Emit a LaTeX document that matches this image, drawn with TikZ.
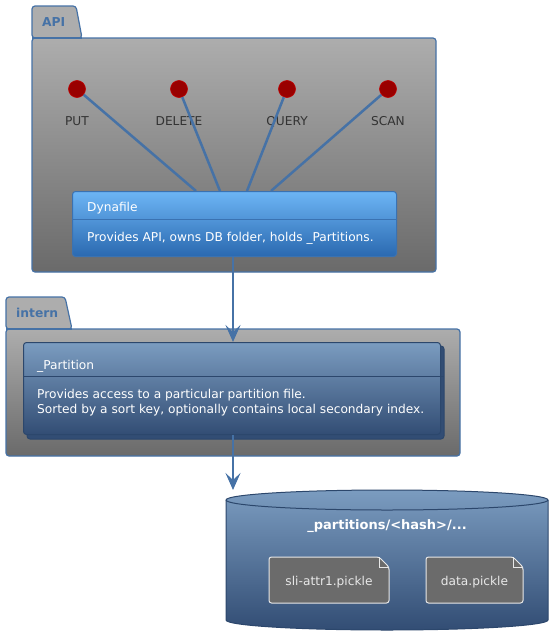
\documentclass[tikz,border=0pt]{standalone}
\usepackage{fontspec}
\setmainfont{DejaVu Sans}
\usetikzlibrary{arrows.meta,calc}
\definecolor{lnk}{HTML}{4672A6}
\definecolor{pkgtop}{HTML}{ADADAD}
\definecolor{pkgbot}{HTML}{6A6A6A}
\definecolor{dyntop}{HTML}{6DB5F5}
\definecolor{dynbot}{HTML}{2A69B0}
\definecolor{dynline}{HTML}{3A72B2}
\definecolor{partop}{HTML}{7B9CC0}
\definecolor{parbot}{HTML}{324D74}
\definecolor{parline}{HTML}{2C476C}
\definecolor{ifill}{HTML}{990000}
\definecolor{iedge}{HTML}{C00000}
\definecolor{lbl}{HTML}{333333}
\definecolor{filefill}{HTML}{6B6B6B}
\definecolor{filetext}{HTML}{E8E8E8}
\newcommand{\txt}{\fontsize{12.2}{15}\selectfont}
\tikzset{
  pkgbody/.style={draw=lnk, line width=1.2pt, rounded corners=3pt, top color=pkgtop, bottom color=pkgbot},
  pkgtab/.style={draw=lnk, line width=1.2pt, fill=pkgtop},
  pkgname/.style={text=lnk, font=\fontsize{12.3}{14}\selectfont\bfseries, anchor=base west, inner sep=0pt},
  iface/.style={circle, fill=ifill, draw=iedge, line width=0.6pt, minimum size=17pt, inner sep=0pt},
  ilabel/.style={text=lbl, font=\txt, inner sep=0pt, anchor=base},
  link/.style={draw=lnk, line width=2.5pt},
  arrow/.style={draw=lnk, line width=2.5pt, -{Stealth[length=17pt, width=15pt, inset=7pt]}},
  wtext/.style={text=white, font=\txt, anchor=base west, inner sep=0pt},
  filebox/.style={draw=filetext, line width=1pt, fill=filefill, rounded corners=2.5pt},
  ftext/.style={text=filetext, font=\txt, inner sep=0pt, anchor=base},
}
\begin{document}
\begin{tikzpicture}[x=1pt,y=-1pt]
\useasboundingbox (0,0) rectangle (554,635);
% ---------- API package ----------
\path[pkgtab, rounded corners=3pt] (32,38) -- (32,6) -- (76,6) -- (82,38) -- cycle;
\path[pkgbody] (32,38) rectangle (436,272);
\draw[lnk, line width=1.2pt] (32,38) -- (82,38);
\node[pkgname] (apiname) at (42,26) {API};
% interfaces
\node[iface] (put) at (77,89) {};
\node[iface] (del) at (179,89) {};
\node[iface] (qry) at (287,89) {};
\node[iface] (scn) at (388,89) {};
\node[ilabel] (putl) at (77,125) {PUT};
\node[ilabel] (dell) at (179,125) {DELETE};
\node[ilabel] (qryl) at (287,125) {QUERY};
\node[ilabel] (scnl) at (388,125) {SCAN};
% Dynafile
\node[draw=dynline, line width=1pt, rounded corners=3pt, top color=dyntop, bottom color=dynbot,
      minimum width=324pt, minimum height=65pt, anchor=north west, inner sep=0pt] (dyn) at (72,191) {};
\draw[dynline, line width=1pt] (72,219) -- (396,219);
\node[wtext] (dynt) at (87,211.5) {Dynafile};
\node[wtext] (dynb) at (87,241) {Provides API, owns DB folder, holds \_Partitions.};
\coordinate (d1) at (196,191);
\coordinate (d2) at (220,191);
\coordinate (d3) at (247,191);
\coordinate (d4) at (271,191);
\draw[link] (put) -- (d1);
\draw[link] (del) -- (d2);
\draw[link] (qry) -- (d3);
\draw[link] (scn) -- (d4);
% ---------- intern package ----------
\path[pkgtab, rounded corners=3pt] (6,329) -- (6,297) -- (65,297) -- (72,329) -- cycle;
\path[pkgbody] (6,329) rectangle (460,456);
\draw[lnk, line width=1.2pt] (6,329) -- (72,329);
\node[pkgname] (internname) at (16,317.5) {intern};
% _Partition (stacked)
\path[draw=parline, line width=1pt, rounded corners=3pt, fill=parbot] (27,346) rectangle (444,439);
\node[draw=parline, line width=1pt, rounded corners=3pt, top color=partop, bottom color=parbot,
      minimum width=417pt, minimum height=92pt, anchor=north west, inner sep=0pt] (par) at (23,342) {};
\draw[parline, line width=1pt] (23,376) -- (444,376);
\node[wtext] (part) at (37,369) {\_Partition};
\node[wtext] (parb1) at (37,398.3) {Provides access to a particular partition file.};
\node[wtext] (parb2) at (37,413.3) {Sorted by a sort key, optionally contains local secondary index.};
% ---------- database ----------
\shadedraw[draw=parline, line width=1pt, top color=partop, bottom color=parbot]
  (226,500) -- (226,620) arc[start angle=180, end angle=0, x radius=161, y radius=10]
  -- (548,500) arc[start angle=0, end angle=-180, x radius=161, y radius=10] -- cycle;
\draw[parline, line width=1pt] (226,500) arc[start angle=180, end angle=0, x radius=161, y radius=10];
\coordinate (dbtop) at (233,490);
\node[text=white, font=\fontsize{13}{15}\selectfont\bfseries, inner sep=0pt, anchor=base] (dbname) at (387,529.5) {\_partitions/<hash>/...};
% files
\path[filebox] (269,557) -- (379,557) -- (389,567) -- (389,603) -- (269,603) -- cycle;
\draw[filetext, line width=1pt] (379,557) -- (379,567) -- (389,567);
\node[ftext] (f1) at (329,585.5) {sli-attr1.pickle};
\path[filebox] (426,557) -- (513,557) -- (523,567) -- (523,603) -- (426,603) -- cycle;
\draw[filetext, line width=1pt] (513,557) -- (513,567) -- (523,567);
\node[ftext] (f2) at (474.5,585.5) {data.pickle};
% ---------- arrows ----------
\draw[arrow] (dyn.south -| 233,0) -- (par.north -| 233,0);
\draw[arrow] (par.south -| 233,0) -- (dbtop);
\end{tikzpicture}
\end{document}
